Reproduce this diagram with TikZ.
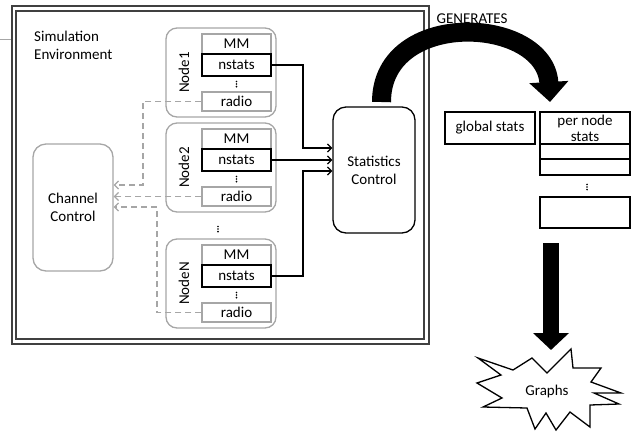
\documentclass[tikz,border=0pt]{standalone}
\usepackage{fontspec}
\setmainfont{Carlito}
\usetikzlibrary{arrows.meta}
\definecolor{lgray}{HTML}{A6A6A6}
\definecolor{frameg}{HTML}{404040}
\begin{document}
\begin{tikzpicture}[x=1pt,y=-1pt,
  font=\fontsize{15}{18}\selectfont,
  framebox/.style={draw=frameg, line width=1.2pt},
  nodebox/.style={draw=lgray, line width=1.3pt, rounded corners=11pt, minimum width=110pt, minimum height=89pt, inner sep=0pt},
  gbox/.style={draw=lgray, line width=1.3pt, minimum width=69pt, inner sep=0pt},
  sbox/.style={draw=black, line width=2pt, minimum width=69pt, minimum height=22pt, inner sep=0pt},
  vdot/.style={minimum width=3pt, minimum height=8pt, inner sep=0pt,
    path picture={
      \fill ([yshift=2.6pt]path picture bounding box.center) circle (0.9pt);
      \fill (path picture bounding box.center) circle (0.9pt);
      \fill ([yshift=-2.6pt]path picture bounding box.center) circle (0.9pt);}},
  nlabel/.style={rotate=90, inner sep=0pt},
  tbox/.style={draw=black, line width=1.3pt, minimum width=90pt, inner sep=0pt},
  conn/.style={draw=black, line width=1.3pt, -{Straight Barb[length=4pt,width=8pt]}},
  dconn/.style={draw=lgray, line width=1.3pt, dash pattern=on 6pt off 4pt, -{Straight Barb[length=4pt,width=8pt]}},
]
\useasboundingbox (0,0) rectangle (632,432);

% stray tick and environment frame
\draw[lgray, line width=0.8pt] (0,39) -- (12,39);
\draw[framebox] (12,6) rectangle (429,344);
\draw[framebox] (16,11) rectangle (424,339);
\node[anchor=west, align=left, inner sep=0pt] (simenv) at (34,45) {Simulation\\Environment};

% Node 1
\node[nodebox] (n1) at (221,72.5) {};
\node[gbox, minimum height=20pt] (mm1) at (236.5,44) {MM};
\node[sbox] (ns1) at (236.5,65) {nstats};
\node[vdot] (d1) at (236.5,84) {};
\node[gbox, minimum height=19pt] (r1) at (236.5,101.5) {radio};
\node[nlabel] (l1) at (184,72.5) {Node1};

% Node 2
\node[nodebox] (n2) at (221,167.5) {};
\node[gbox, minimum height=20pt] (mm2) at (236.5,139) {MM};
\node[sbox] (ns2) at (236.5,160) {nstats};
\node[vdot] (d2) at (236.5,179) {};
\node[gbox, minimum height=19pt] (r2) at (236.5,196.5) {radio};
\node[nlabel] (l2) at (184,167.5) {Node2};

% between-node dots
\node[vdot] (dn) at (218,229) {};

% Node N
\node[nodebox] (nN) at (221,283.5) {};
\node[gbox, minimum height=20pt] (mmN) at (236.5,255) {MM};
\node[sbox] (nsN) at (236.5,276) {nstats};
\node[vdot] (dN) at (236.5,295) {};
\node[gbox, minimum height=19pt] (rN) at (236.5,312.5) {radio};
\node[nlabel] (lN) at (184,283.5) {NodeN};

% Channel control
\node[draw=lgray, line width=1.3pt, rounded corners=13pt, minimum width=80pt, minimum height=127pt, align=center, inner sep=0pt] (chan) at (73,207.5) {Channel\\Control};

% Statistics control
\node[draw=black, line width=1.3pt, rounded corners=13pt, minimum width=82pt, minimum height=126pt, align=center, inner sep=0pt] (stat) at (374,170) {Statistics\\Control};

% nstats connectors
\draw[conn] (ns1.east) -- (303,65) |- (stat.west |- 0,148);
\draw[conn] (ns2.east) -- (stat.west |- ns2.east);
\draw[conn] (nsN.east) -- (303,276) |- (stat.west |- 0,171);

% radio connectors
\draw[dconn] (r1.west) -- (143,101.5) |- (chan.east |- 0,185);
\draw[dconn] (r2.west) -- (chan.east |- r2.west);
\draw[dconn] (rN.west) -- (157,312.5) |- (chan.east |- 0,207);

% Generates arrow
\node[inner sep=0pt] (gen) at (472,19) {GENERATES};
\coordinate (ca) at (381.5,102);
\coordinate (cb) at (550,102);
\draw[line width=19pt, -{Triangle[width=38pt,length=20pt]}] (ca) .. controls (381.5,8) and (545,16) .. (cb);

% statistics table
\node[tbox, minimum height=32pt] (glob) at (490,128) {global stats};
\node[tbox, minimum height=32pt, align=center, font=\fontsize{15}{16}\selectfont] (pern) at (585,128) {per node\\stats};
\node[tbox, minimum height=15pt] (row1) at (585,151.5) {};
\node[tbox, minimum height=16pt] (row2) at (585,167) {};
\node[vdot] (td) at (587,187) {};
\node[tbox, minimum height=31pt] (rowN) at (585,212.5) {};

% down arrow
\coordinate (da) at (551,243);
\coordinate (db) at (551,350);
\draw[line width=16pt, -{Triangle[width=35pt,length=17pt]}] (da) -- (db);

% Graphs starburst
\draw[black, line width=1.3pt, fill=white, line join=miter, miter limit=20]
  (478,358) -- (513,370) -- (532,358) -- (547,373) -- (571,349) -- (573,368)
  -- (601,368) -- (591,382) -- (621,393) -- (594,393) -- (619,404) -- (590,405)
  -- (590,427) -- (570,412) -- (556,430) -- (546,413) -- (535,429) -- (527,408)
  -- (483,407) -- (502,398) -- (477,383) -- (501,375) -- cycle;
\node[inner sep=0pt] (graphs) at (547,391) {Graphs};
\end{tikzpicture}
\end{document}
